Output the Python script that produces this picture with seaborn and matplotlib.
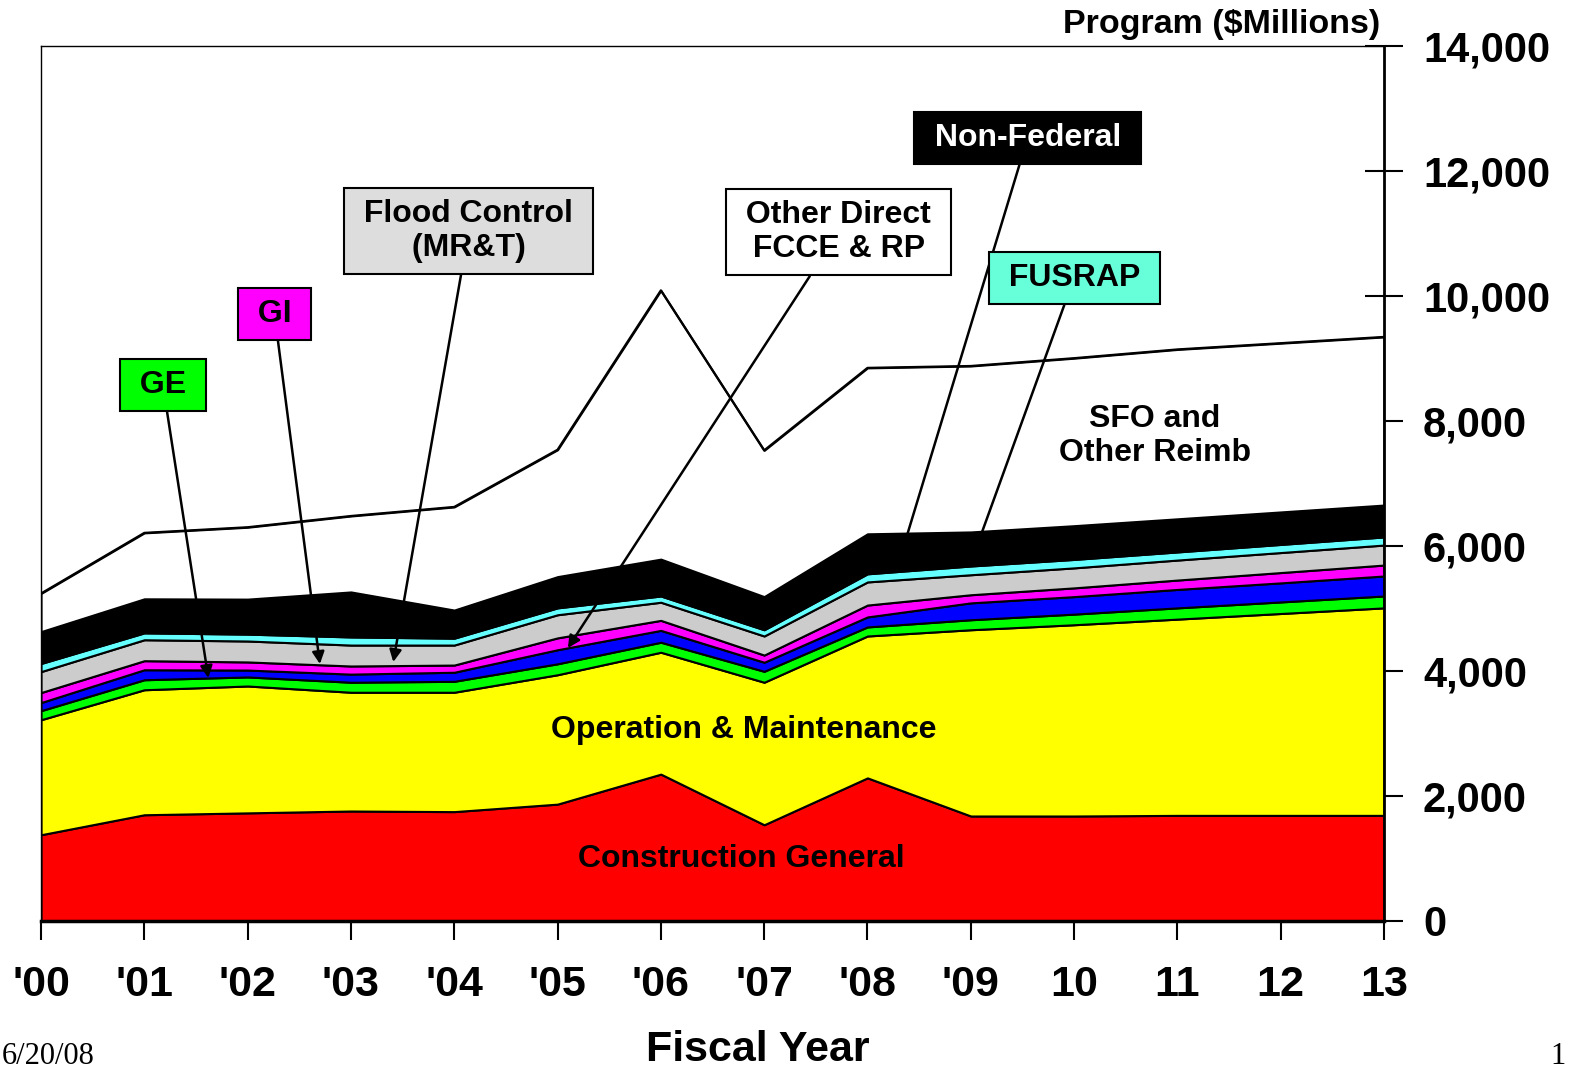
import numpy as np
import pandas as pd
import seaborn as sns
import matplotlib.pyplot as plt

# Program by fiscal year, $ millions
years = list(range(14))
year_labels = ["'00", "'01", "'02", "'03", "'04", "'05", "'06", "'07", "'08", "'09",
               "10", "11", "12", "13"]

construction_general = [1380, 1700, 1730, 1760, 1750, 1870, 2350, 1540, 2290, 1680, 1680, 1690, 1690, 1690]
operation_maint = [1840, 2000, 2030, 1900, 1910, 2070, 1950, 2280, 2270, 2980, 3060, 3140, 3230, 3320]
ge = [145, 160, 145, 160, 175, 175, 160, 175, 145, 160, 170, 180, 185, 190]
other_direct = [130, 160, 110, 130, 145, 225, 190, 145, 160, 270, 280, 295, 305, 320]
gi = [160, 145, 130, 130, 115, 190, 160, 115, 190, 130, 140, 150, 165, 175]
flood_control = [335, 335, 335, 335, 320, 370, 290, 305, 370, 320, 320, 320, 320, 320]
fusrap = [130, 110, 110, 130, 110, 110, 100, 100, 130, 140, 135, 130, 130, 130]
non_federal = [510, 545, 560, 720, 450, 500, 590, 530, 640, 545, 540, 530, 520, 510]
sfo_reimb = [610, 1055, 1150, 1215, 1650, 2030, 4300, 2340, 2655, 2655, 2680, 2710, 2700, 2690]

layers = [construction_general, operation_maint, ge, other_direct, gi,
          flood_control, fusrap, non_federal, sfo_reimb]
colors = ["#FF0000", "#FFFF00", "#00FF00", "#0000FF", "#FF00FF",
          "#CCCCCC", "#66FFFF", "#000000", "#FFFFFF"]

df = pd.DataFrame({"year": years, "total": np.sum(layers, axis=0)})

sns.set_theme(style="white")
plt.rcParams['font.family'] = ['Liberation Sans', 'DejaVu Sans']
plt.rcParams.update({"text.color": "black", "xtick.color": "black",
                     "ytick.color": "black", "axes.labelcolor": "black"})

fig = plt.figure(figsize=(15.7, 10.71), dpi=100)
ax = fig.add_axes([41 / 1570, 1 - 921 / 1071, (1384 - 41) / 1570, (921 - 46) / 1071])

ax.stackplot(years, *layers, colors=colors, edgecolor="black", linewidth=1.5)
sns.lineplot(data=df, x="year", y="total", color="black", linewidth=1.6, ax=ax)

ax.set_xlim(0, 13)
ax.set_ylim(0, 14000)
ax.set_xticks(years)
ax.set_xticklabels(year_labels, fontsize=31, fontweight="bold")
ax.yaxis.tick_right()
yt = list(range(0, 14001, 2000))
ax.set_yticks(yt)
ax.set_yticklabels([f"{v:,}" for v in yt], fontsize=30, fontweight="bold")
ax.tick_params(axis="y", direction="inout", length=28, width=1.5, pad=14, right=True, left=False)
ax.tick_params(axis="x", direction="out", length=14, width=1.5, pad=18, bottom=True)
ax.set_xlabel("")
ax.set_ylabel("")
for s in ["left", "top"]:
    ax.spines[s].set_linewidth(1)
    ax.spines[s].set_color("black")
ax.spines["right"].set_linewidth(2)
ax.spines["bottom"].set_linewidth(2.5)
ax.spines["right"].set_color("black")
ax.spines["bottom"].set_color("black")

fig.text(1380 / 1570, 1 - 25 / 1071, "Program ($Millions)", ha="right", va="center",
         fontsize=24.5, fontweight="bold")
fig.text(758 / 1570, 1 - 1050 / 1071, "Fiscal Year", ha="center", va="center",
         fontsize=31, fontweight="bold")
fig.text(2 / 1570, 1 - 1057 / 1071, "6/20/08", ha="left", va="center",
         fontsize=22, family="Liberation Serif")
fig.text(1550 / 1570, 1 - 1057 / 1071, "1", ha="left", va="center",
         fontsize=22, family="Liberation Serif")

# in-area labels
ax.text(6.8, 3060, "Operation & Maintenance", ha="center", va="center", fontsize=23, fontweight="bold")
ax.text(6.78, 990, "Construction General", ha="center", va="center", fontsize=23, fontweight="bold")
ax.text(10.78, 7760, "SFO and\nOther Reimb", ha="center", va="center", fontsize=23,
        fontweight="bold", linespacing=1.2)

# callout boxes with arrows
callouts = [
    (" GE ", 1.18, 8576, 1.62, 3888, "#00FF00", "black"),
    (" GI ", 2.26, 9712, 2.70, 4112, "#FF00FF", "black"),
    (" Flood Control \n (MR&T) ", 4.14, 11040, 3.41, 4144, "#DDDDDD", "black"),
    (" Other Direct \n FCCE & RP ", 7.72, 11024, 5.10, 4368, "white", "black"),
    (" Non-Federal ", 9.55, 12528, 8.34, 5936, "black", "white"),
    (" FUSRAP ", 10.0, 10288, 8.99, 5680, "#66FFD9", "black"),
]
for label, bx, by, tx, ty, fc, tc in callouts:
    ax.annotate(label, xy=(tx, ty), xytext=(bx, by), ha="center", va="center",
                fontsize=23, fontweight="bold", color=tc, linespacing=1.2,
                bbox=dict(boxstyle="square,pad=0.35", fc=fc, ec="black", lw=1.5),
                arrowprops=dict(arrowstyle="-|>", color="black", lw=1.8,
                                mutation_scale=18, shrinkA=0, shrinkB=0))

fig.savefig("out.png", dpi=100)
